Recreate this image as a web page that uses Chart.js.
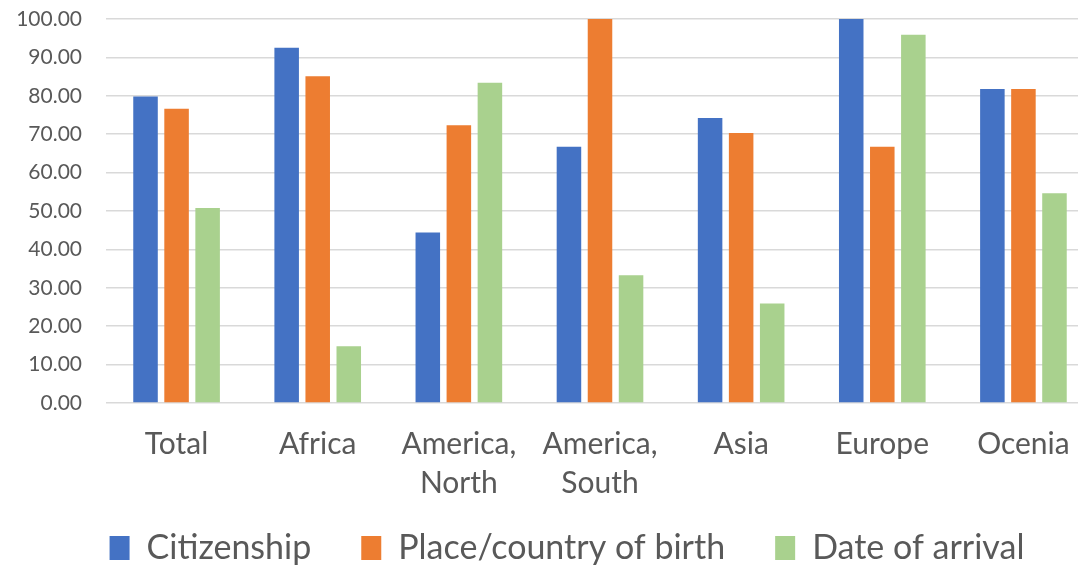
<!DOCTYPE html>
<html>
<head>
<meta charset="utf-8">
<script src="https://cdn.jsdelivr.net/npm/chart.js@4/dist/chart.umd.min.js"></script>
<style>
html,body{margin:0;padding:0;background:#fff;overflow:hidden;}
#outer{width:1078px;height:567px;overflow:hidden;position:relative;}
#wrap{width:1094px;height:567px;position:absolute;left:0;top:0;}
</style>
</head>
<body>
<div id="outer"><div id="wrap"><canvas id="c"></canvas></div></div>
<script>
const categories = ['Total', 'Africa', ['America,', 'North'], ['America,', 'South'], 'Asia', 'Europe', 'Ocenia'];
const citizenship = [79.8, 92.5, 44.4, 66.7, 74.2, 100.0, 81.8];
const placeOfBirth = [76.6, 85.1, 72.3, 100.0, 70.3, 66.7, 81.8];
const dateOfArrival = [50.8, 14.8, 83.4, 33.3, 25.9, 95.9, 54.6];
const seriesNames = ['Citizenship', 'Place/country of birth', 'Date of arrival'];
const colors = ['#4472C4', '#ED7D31', '#A9D18E'];

const FONT = 'Lato, "Open Sans", sans-serif';

const legendPatch = {
  id: 'legendPatch',
  beforeLayout(chart) {
    const lg = chart.legend;
    if (lg && !lg._patched) {
      const origFit = lg.fit;
      lg.fit = function () { origFit.call(this); this.height = 64; };
      lg._patched = true;
    }
  },
  afterLayout(chart) {
    const lg = chart.legend;
    if (!lg) return;
    lg.top -= 22;
    lg.height += 22;
    lg.left += 18;
    lg.right += 18;
  }
};

new Chart(document.getElementById('c'), {
  type: 'bar',
  data: {
    labels: categories,
    datasets: [citizenship, placeOfBirth, dateOfArrival].map((d, i) => ({
      label: seriesNames[i],
      data: d,
      backgroundColor: colors[i],
      borderWidth: 0,
      categoryPercentage: 0.66,
      barPercentage: 0.79
    }))
  },
  plugins: [legendPatch],
  options: {
    responsive: true,
    maintainAspectRatio: false,
    animation: false,
    layout: { padding: { top: 19, right: 0, left: 4, bottom: 0 } },
    plugins: {
      tooltip: { enabled: false },
      legend: {
        position: 'bottom',
        labels: {
          font: { family: FONT, size: 34 },
          color: '#595959',
          boxWidth: 20,
          boxHeight: 24,
          padding: 50,
          useBorderRadius: false
        }
      }
    },
    scales: {
      x: {
        grid: { display: false, drawTicks: false },
        border: { display: false },
        afterFit(s) { s.height = 100; },
        ticks: {
          font: { family: FONT, size: 30, lineHeight: 1.3 },
          color: '#595959',
          maxRotation: 0,
          autoSkip: false,
          padding: 22
        }
      },
      y: {
        min: 0,
        max: 100,
        grid: { color: '#d9d9d9', lineWidth: 1.5, drawTicks: false },
        border: { display: false },
        afterFit(s) { s.width = 102; s.paddingTop = 0; s.paddingBottom = 0; },
        ticks: {
          stepSize: 10,
          font: { family: FONT, size: 21 },
          color: '#595959',
          padding: 24,
          callback: v => v.toFixed(2)
        }
      }
    }
  }
});
</script>
</body>
</html>
